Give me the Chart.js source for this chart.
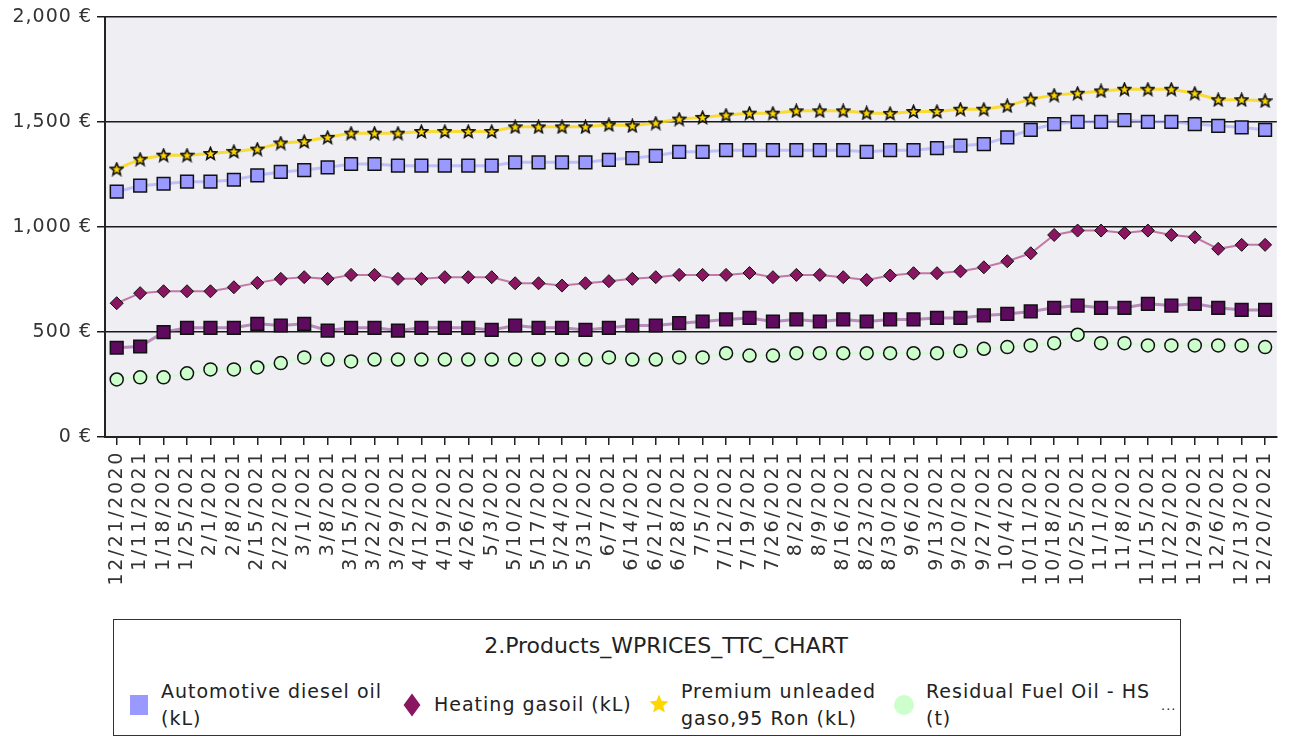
<!DOCTYPE html>
<html>
<head>
<meta charset="utf-8">
<title>2.Products_WPRICES_TTC_CHART</title>
<script src="https://cdn.jsdelivr.net/npm/chart.js@4.4.1/dist/chart.umd.min.js"></script>
<style>
    body { margin: 0; background: #fff; font-family: "DejaVu Sans", sans-serif; color: #222; }
    #wrap { position: relative; width: 1293px; height: 738px; overflow: hidden; }
    #chart { position: absolute; left: 0; top: 0; }
    #legend { position: absolute; left: 113px; top: 619px; width: 1066px; height: 115px; border: 1.5px solid #333; }
    #legend .title { position: absolute; left: 0; width: 100%; top: 13px; text-align: center; font-size: 22px; padding-left: 38px; box-sizing: border-box; }
    #legend .item { position: absolute; font-size: 19px; line-height: 27px; letter-spacing: 1px; }
    #legend .mk { position: absolute; }
</style>
</head>
<body>
<div id="wrap">
    <canvas id="chart" width="1293" height="610"></canvas>
    <div id="legend"></div>
</div>
<script>
const weeks = ['12/21/2020', '1/11/2021', '1/18/2021', '1/25/2021', '2/1/2021', '2/8/2021', '2/15/2021', '2/22/2021',
    '3/1/2021', '3/8/2021', '3/15/2021', '3/22/2021', '3/29/2021', '4/12/2021', '4/19/2021', '4/26/2021',
    '5/3/2021', '5/10/2021', '5/17/2021', '5/24/2021', '5/31/2021', '6/7/2021', '6/14/2021', '6/21/2021', '6/28/2021',
    '7/5/2021', '7/12/2021', '7/19/2021', '7/26/2021', '8/2/2021', '8/9/2021', '8/16/2021', '8/23/2021', '8/30/2021',
    '9/6/2021', '9/13/2021', '9/20/2021', '9/27/2021', '10/4/2021', '10/11/2021', '10/18/2021', '10/25/2021',
    '11/1/2021', '11/8/2021', '11/15/2021', '11/22/2021', '11/29/2021', '12/6/2021', '12/13/2021', '12/20/2021'];

const diesel = [1168, 1197, 1206, 1216, 1216, 1225, 1246, 1262, 1271, 1284, 1300, 1300, 1292, 1292, 1292, 1292, 1292,
    1308, 1308, 1308, 1308, 1320, 1328, 1339, 1358, 1358, 1366, 1366, 1366, 1366, 1366, 1366, 1358, 1366, 1366,
    1376, 1387, 1395, 1427, 1463, 1490, 1501, 1501, 1509, 1501, 1501, 1490, 1482, 1474, 1463];

const heating = [637, 685, 694, 694, 694, 713, 734, 753, 761, 753, 772, 772, 753, 753, 761, 761, 761,
    732, 732, 721, 732, 742, 753, 761, 772, 772, 772, 781, 761, 772, 772, 761, 748, 769, 780,
    780, 789, 808, 837, 875, 962, 983, 983, 972, 983, 962, 951, 896, 915, 915];

const premium = [1276, 1323, 1342, 1342, 1350, 1360, 1371, 1400, 1407, 1427, 1447, 1447, 1447, 1455, 1455, 1455, 1455,
    1477, 1477, 1477, 1477, 1487, 1482, 1495, 1514, 1522, 1533, 1542, 1542, 1553, 1553, 1553, 1543, 1541, 1550,
    1550, 1561, 1561, 1577, 1609, 1628, 1637, 1648, 1656, 1656, 1656, 1637, 1606, 1606, 1601];

const residualHS = [274, 284, 284, 303, 322, 322, 331, 352, 379, 369, 360, 369, 369, 369, 369, 369, 369,
    369, 369, 369, 369, 379, 369, 369, 379, 379, 399, 388, 388, 399, 399, 399, 399, 399, 399,
    399, 409, 420, 428, 436, 447, 487, 447, 447, 436, 436, 436, 436, 436, 428];

const residualLS = [425, 431, 499, 520, 520, 520, 539, 531, 539, 507, 520, 520, 507, 520, 520, 520, 510,
    531, 520, 520, 510, 520, 531, 531, 542, 550, 560, 567, 550, 560, 550, 560, 550, 560, 560,
    567, 567, 579, 586, 598, 615, 626, 615, 615, 634, 626, 634, 615, 605, 605];

const yTicks = [0, 500, 1000, 1500, 2000];

// filled star marker (chart.js 'star' is only an asterisk)
function makeStar(size, fill, stroke) {
    const c = document.createElement('canvas');
    c.width = size;
    c.height = size;
    const g = c.getContext('2d');
    const cx = size / 2, cy = size / 2 + 0.5, ro = size / 2 - 1, ri = ro * 0.45;
    g.beginPath();
    for (let i = 0; i < 10; i++) {
        const r = i % 2 ? ri : ro;
        const a = -Math.PI / 2 + i * Math.PI / 5;
        g.lineTo(cx + r * Math.cos(a), cy + r * Math.sin(a));
    }
    g.closePath();
    g.fillStyle = fill;
    g.fill();
    if (stroke) {
        g.lineWidth = 1.6;
        g.strokeStyle = stroke;
        g.stroke();
    }
    return c;
}

const plotBg = {
    id: 'plotBg',
    beforeDraw(chart) {
        const a = chart.chartArea;
        chart.ctx.save();
        chart.ctx.fillStyle = '#eeeef3';
        chart.ctx.fillRect(a.left, a.top, a.right - a.left, a.bottom - a.top);
        chart.ctx.restore();
        chart.ctx.letterSpacing = '1px';
    },
    // x labels are drawn after the datasets (ticks.z = 1), spaced out like the original
    afterDatasetsDraw(chart) {
        chart.ctx.letterSpacing = '2.6px';
    },
    afterDraw(chart) {
        chart.ctx.letterSpacing = '0px';
    }
};

function series(label, data, fill, line, lineWidth, style, radius, borderWidth) {
    return {
        label: label,
        data: data,
        borderColor: line,
        borderWidth: lineWidth,
        backgroundColor: fill,
        pointStyle: style,
        pointRadius: radius,
        pointHoverRadius: radius,
        pointBackgroundColor: fill,
        pointBorderColor: '#111',
        pointBorderWidth: borderWidth,
        tension: 0,
        fill: false
    };
}

new Chart(document.getElementById('chart'), {
    type: 'line',
    data: {
        labels: weeks,
        datasets: [
            series('Residual Fuel Oil - HS (t)', residualHS, '#ccffcc', 'rgba(204,255,204,0.9)', 2, 'circle', 6.5, 1.5),
            series('Residual Fuel Oil - LS (t)', residualLS, '#5e0a5e', 'rgba(140,60,140,0.55)', 3, 'rect', 9, 1.5),
            series('Heating gasoil (kL)', heating, '#8a1560', 'rgba(180,80,140,0.75)', 2, 'rectRot', 6.5, 1),
            series('Automotive diesel oil (kL)', diesel, '#9999ff', 'rgba(160,160,255,0.6)', 3, 'rect', 9, 1.5),
            series('Premium unleaded gaso,95 Ron (kL)', premium, '#ffd700', 'rgba(250,215,20,0.85)', 3, makeStar(15, '#ffd700', '#111'), 7, 0)
        ]
    },
    options: {
        responsive: false,
        devicePixelRatio: 1,
        animation: false,
        layout: { padding: { top: 17, right: 8, left: 0, bottom: 0 } },
        plugins: {
            legend: { display: false },
            tooltip: { enabled: false }
        },
        scales: {
            x: {
                offset: true,
                grid: { drawOnChartArea: false, offset: false, tickLength: 8, color: '#222', lineWidth: 1.5 },
                border: { display: true, color: '#222', width: 2 },
                ticks: {
                    autoSkip: false,
                    minRotation: 90,
                    maxRotation: 90,
                    padding: 5,
                    z: 1,
                    color: '#333',
                    font: { family: 'DejaVu Sans', size: 19 }
                },
                afterFit(scale) { scale.height = 173; }
            },
            y: {
                min: 0,
                max: 2000,
                afterBuildTicks(scale) { scale.ticks = yTicks.map(v => ({ value: v })); },
                grid: { color: '#1a1a1a', lineWidth: 1.5, tickLength: 8 },
                border: { display: true, color: '#222', width: 2 },
                ticks: {
                    padding: 5,
                    color: '#333',
                    font: { family: 'DejaVu Sans', size: 19 },
                    callback: v => v.toLocaleString('en-US') + ' €'
                },
                afterFit(scale) { scale.width = 105; }
            }
        }
    },
    plugins: [plotBg]
});

// legend box, laid out like the original
const legendItems = [
    { mk: 'square', color: '#9999ff', x: 47, text: 'Automotive diesel oil<br>(kL)' },
    { mk: 'diamond', color: '#8a1560', x: 320, text: 'Heating gasoil (kL)' },
    { mk: 'star', color: '#ffd700', x: 567, text: 'Premium unleaded<br>gaso,95 Ron (kL)' },
    { mk: 'circle', color: '#ccffcc', x: 812, text: 'Residual Fuel Oil - HS<br>(t)' }
];
const legend = document.getElementById('legend');
legend.innerHTML = '<div class="title">2.Products_WPRICES_TTC_CHART</div>';
legendItems.forEach(it => {
    const m = document.createElement('div');
    m.className = 'mk';
    const cx = it.x - 22, cy = 85;
    if (it.mk === 'square') {
        Object.assign(m.style, { left: (cx - 9) + 'px', top: (cy - 10) + 'px', width: '18px', height: '20px', background: it.color });
    } else if (it.mk === 'diamond') {
        Object.assign(m.style, { left: (cx - 7) + 'px', top: (cy - 7) + 'px', width: '14px', height: '14px', background: it.color,
            transform: 'scale(0.85,1.15) rotate(45deg)' });
    } else if (it.mk === 'circle') {
        Object.assign(m.style, { left: (cx - 10) + 'px', top: (cy - 10) + 'px', width: '20px', height: '20px', background: it.color, borderRadius: '50%' });
    } else {
        const s = makeStar(22, it.color, null);
        s.style.position = 'absolute';
        s.style.left = (cx - 11) + 'px';
        s.style.top = (cy - 12) + 'px';
        legend.appendChild(s);
    }
    if (it.mk !== 'star') legend.appendChild(m);
    const t = document.createElement('div');
    t.className = 'item';
    t.style.left = it.x + 'px';
    const twoLines = it.text.indexOf('<br>') >= 0;
    t.style.top = (twoLines ? 58 : 71) + 'px';
    t.innerHTML = it.text;
    legend.appendChild(t);
});
const more = document.createElement('div');
more.className = 'item';
more.style.left = '1047px';
more.style.top = '72px';
more.style.fontSize = '13px';
more.textContent = '...';
legend.appendChild(more);
</script>
</body>
</html>
